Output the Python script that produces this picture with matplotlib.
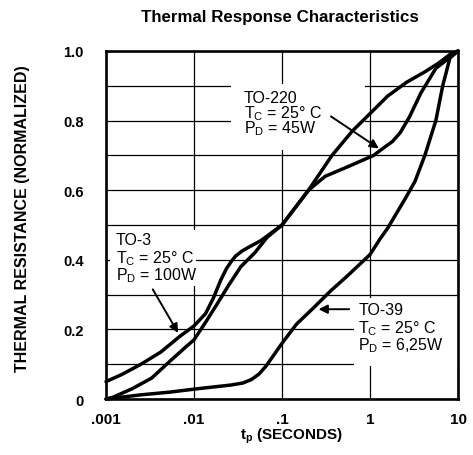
import matplotlib
matplotlib.use("Agg")
import matplotlib.pyplot as plt
from matplotlib.patches import Rectangle
from matplotlib.ticker import NullLocator

plt.rcParams['font.family'] = ['Liberation Sans', 'DejaVu Sans']
plt.rcParams['mathtext.fontset'] = 'custom'
plt.rcParams['mathtext.rm'] = 'Liberation Sans'
plt.rcParams['mathtext.bf'] = 'Liberation Sans:bold'
plt.rcParams['mathtext.it'] = 'Liberation Sans:italic'

# ---- data ----
title = "Thermal Response Characteristics"
x_label = r"t$_\mathbf{p}$ (SECONDS)"
y_label = "THERMAL RESISTANCE (NORMALIZED)"
x_ticks = [0.001, 0.01, 0.1, 1, 10]
x_tick_labels = [".001", ".01", ".1", "1", "10"]
y_ticks = [0, 0.2, 0.4, 0.6, 0.8, 1.0]
y_tick_labels = ["0", "0.2", "0.4", "0.6", "0.8", "1.0"]
y_minor = [0.1, 0.3, 0.5, 0.7, 0.9]

to3_t = [0.001, 0.0015, 0.0025, 0.0042, 0.0069, 0.01, 0.0135, 0.0166, 0.02, 0.0234,
         0.0265, 0.0295, 0.035, 0.041, 0.0575, 0.1, 0.2, 0.37, 0.63, 1.0, 1.58, 2.6,
         4.2, 6.0, 8.1, 10]
to3_r = [0.05, 0.07, 0.10, 0.135, 0.18, 0.21, 0.245, 0.29, 0.34, 0.375,
         0.395, 0.41, 0.425, 0.435, 0.455, 0.50, 0.60, 0.70, 0.77, 0.82, 0.87, 0.91,
         0.94, 0.965, 0.99, 1.0]

to220_t = [0.001, 0.0012, 0.002, 0.0033, 0.0054, 0.0081, 0.01, 0.0135, 0.018, 0.0245,
           0.034, 0.049, 0.068, 0.1, 0.2, 0.31, 0.59, 1.1, 1.4, 1.8, 2.2, 2.8, 3.8,
           5.6, 10]
to220_r = [0.0, 0.005, 0.03, 0.06, 0.11, 0.15, 0.17, 0.22, 0.27, 0.325,
           0.38, 0.42, 0.465, 0.50, 0.60, 0.64, 0.67, 0.70, 0.72, 0.74, 0.765, 0.81, 0.88,
           0.95, 1.0]

to39_t = [0.001, 0.0025, 0.0054, 0.0114, 0.026, 0.036, 0.045, 0.055, 0.066, 0.08, 0.1,
          0.146, 0.224, 0.355, 0.56, 1.0, 1.3, 1.58, 2.57, 3.24, 4.2, 5.6, 6.7, 8.1, 10]
to39_r = [0.0, 0.012, 0.02, 0.03, 0.04, 0.046, 0.056, 0.072, 0.095, 0.125, 0.16,
          0.215, 0.26, 0.31, 0.355, 0.415, 0.46, 0.49, 0.58, 0.625, 0.70, 0.80, 0.90, 0.98, 1.0]

labels = {
    "TO-220": ["TO-220", r"T$_\mathrm{C}$ = 25° C", r"P$_\mathrm{D}$ = 45W"],
    "TO-3": ["TO-3", r"T$_\mathrm{C}$ = 25° C", r"P$_\mathrm{D}$ = 100W"],
    "TO-39": ["TO-39", r"T$_\mathrm{C}$ = 25° C", r"P$_\mathrm{D}$ = 6,25W"],
}

# ---- figure ----
fig = plt.figure(figsize=(4.73, 4.56), dpi=100)
ax = fig.add_axes([0.2241, 0.1228, 0.7442, 0.7632])
ax.set_xscale('log')
ax.set_xlim(0.001, 10)
ax.set_ylim(0, 1.0)
ax.set_xticks(x_ticks)
ax.set_xticklabels(x_tick_labels, fontsize=11, fontweight='bold')
ax.xaxis.set_minor_locator(NullLocator())
ax.set_yticks(y_ticks)
ax.set_yticklabels(y_tick_labels, fontsize=10.5, fontweight='bold')
ax.set_yticks(y_minor, minor=True)
ax.set_axisbelow(True)
ax.grid(True, axis='x', which='major', color='black', lw=0.9)
ax.grid(True, axis='y', which='both', color='black', lw=0.9)
ax.tick_params(axis='both', which='both', length=0)
ax.tick_params(axis='x', pad=9)
ax.tick_params(axis='y', pad=16)
for s in ax.spines.values():
    s.set_linewidth(1.9)
    s.set_zorder(5)

# white boxes behind labels (hide grid)
boxes = [((0.026, 0.715), 0.87 - 0.026, 0.905 - 0.715),
         ((0.0011, 0.325), 0.0105 - 0.0011, 0.485 - 0.325),
         ((0.65, 0.095), 10 - 0.65, 0.29 - 0.095)]
for (xy, w, h) in boxes:
    ax.add_patch(Rectangle(xy, w, h, facecolor='white', edgecolor='none', zorder=1))

for t, r in [(to3_t, to3_r), (to220_t, to220_r), (to39_t, to39_r)]:
    ax.plot(t, r, color='black', lw=2.5, solid_joinstyle='round',
            solid_capstyle='round', zorder=3, clip_on=False)

def put_label(key, x, ys):
    for line, y in zip(labels[key], ys):
        ax.text(x, y, line, fontsize=11.5, ha='left', va='center', zorder=4)

put_label("TO-220", 0.037, [0.867, 0.822, 0.78])
put_label("TO-3", 0.00129, [0.457, 0.405, 0.357])
put_label("TO-39", 0.74, [0.257, 0.205, 0.155])

arr = dict(arrowstyle='-|>', color='black', lw=1.4, mutation_scale=13, shrinkA=0, shrinkB=0)
ax.annotate("", xy=(1.26, 0.72), xytext=(0.36, 0.812), arrowprops=arr, zorder=4)
ax.annotate("", xy=(0.0066, 0.19), xytext=(0.0034, 0.315), arrowprops=arr, zorder=4)
ax.annotate("", xy=(0.26, 0.258), xytext=(0.58, 0.258), arrowprops=arr, zorder=4)

fig.text(0.592, 0.961, title, ha='center', va='center', fontsize=12.2, fontweight='bold')
fig.text(0.047, 0.521, y_label, ha='center', va='center', rotation=90, fontsize=11.5, fontweight='bold')
fig.text(0.617, 0.043, x_label, ha='center', va='center', fontsize=11, fontweight='bold')

fig.savefig("out.png", dpi=100)
